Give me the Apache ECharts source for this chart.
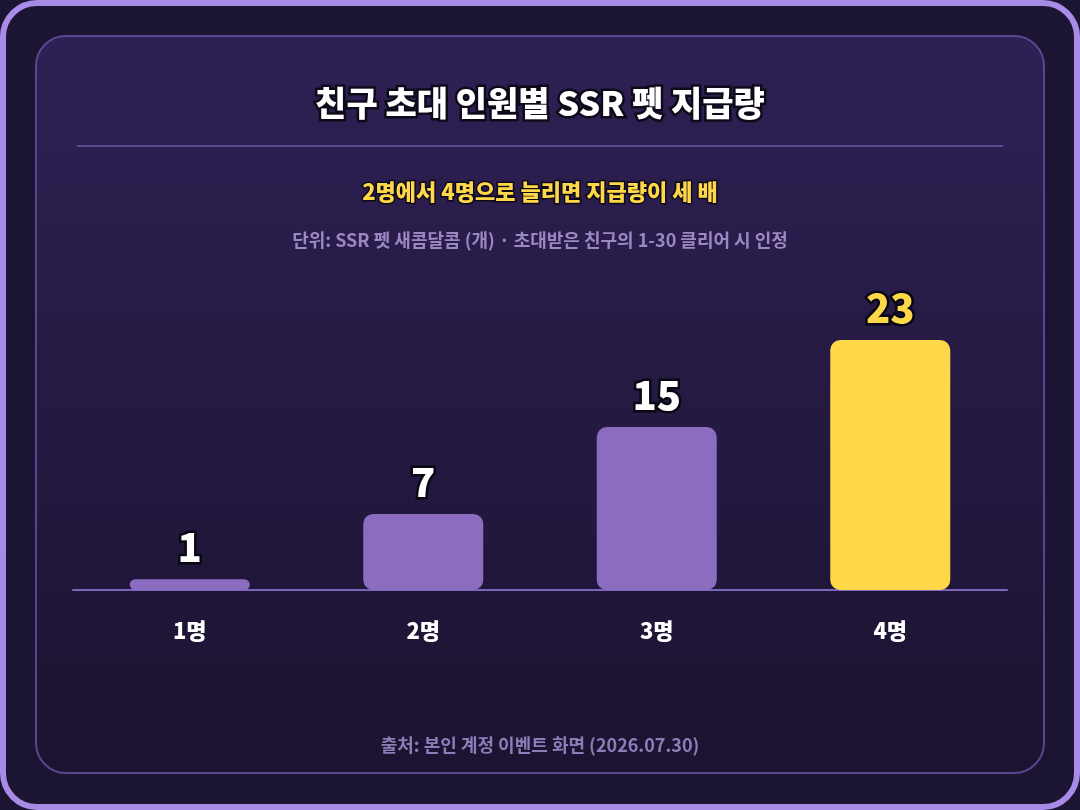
<!DOCTYPE html>
<html><head><meta charset="utf-8">
<script src="https://cdn.jsdelivr.net/npm/echarts@6/dist/echarts.min.js"></script>
<style>html,body{margin:0;padding:0;background:#1c1433}#c{width:1080px;height:810px}</style>
</head><body><div id="c"></div>
<script>
const categories = ['1명','2명','3명','4명'];
const values = [1, 7, 15, 23];
const titleText = '친구 초대 인원별 SSR 펫 지급량';
const subtitleText = '2명에서 4명으로 늘리면 지급량이 세 배';
const noteText = '단위: SSR 펫 새콤달콤 (개) · 초대받은 친구의 1-30 클리어 시 인정';
const sourceText = '출처: 본인 계정 이벤트 화면 (2026.07.30)';
const F = '"Noto Sans CJK KR", sans-serif';
const chart = echarts.init(document.getElementById('c'));
chart.setOption({
  backgroundColor: '#1c1433',
  graphic: [
    {type:'rect', shape:{x:3,y:3,width:1074,height:804,r:34}, style:{fill:'#1c1433',stroke:'#a88be6',lineWidth:6}, z:-10},
    {type:'rect', shape:{x:36,y:36,width:1008,height:737,r:30}, style:{fill:new echarts.graphic.LinearGradient(0,0,0,1,[{offset:0,color:'#2f2054'},{offset:1,color:'#1b1330'}]),stroke:'#5a4690',lineWidth:2}, z:-9},
    {type:'line', shape:{x1:77,y1:146,x2:1003,y2:146}, style:{stroke:'#5f4a96',lineWidth:2}, z:-8},
    {type:'text', x:540, y:103, style:{text:titleText, font:'900 34px '+F, fill:'#ffffff', stroke:'#0e0a1a', lineWidth:5, align:'center', verticalAlign:'middle'}},
    {type:'text', x:540, y:192, style:{text:subtitleText, font:'900 22px '+F, fill:'#ffd84a', stroke:'#0e0a1a', lineWidth:3, align:'center', verticalAlign:'middle'}},
    {type:'text', x:540, y:240, style:{text:noteText, font:'bold 18px '+F, fill:'#9a88c2', align:'center', verticalAlign:'middle'}},
    {type:'text', x:540, y:745, style:{text:sourceText, font:'bold 18px '+F, fill:'#8e7cb8', align:'center', verticalAlign:'middle'}}
  ],
  grid: {left:73, right:73, top:340, bottom:220, containLabel:false},
  xAxis: {type:'category', data:categories,
    axisLine:{lineStyle:{color:'#7b65b8',width:2}}, axisTick:{show:false},
    axisLabel:{color:'#ffffff', fontFamily:F, fontWeight:900, fontSize:22, margin:30}},
  yAxis: {type:'value', min:0, max:23, show:false, splitLine:{show:false}},
  series: [{type:'bar', barWidth:120,
    data: values.map((v,i)=>({value:v, itemStyle:{color: i===3?'#ffd84a':'#8b6cc1', borderRadius:10},
      label:{color: i===3?'#ffd84a':'#ffffff'}})),
    label:{show:true, position:'top', distance:12, fontFamily:F, fontWeight:900, fontSize:40, textBorderColor:'#0a0714', textBorderWidth:5}
  }]
});
</script></body></html>
